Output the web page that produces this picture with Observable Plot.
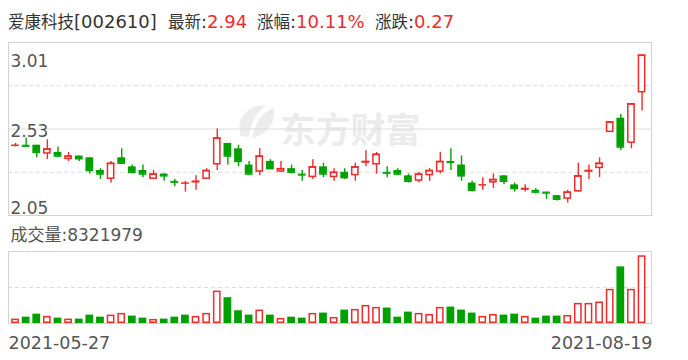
<!DOCTYPE html>
<html><head><meta charset="utf-8">
<script src="https://cdn.jsdelivr.net/npm/d3@7"></script>
<script src="https://cdn.jsdelivr.net/npm/@observablehq/plot@0.6"></script>
<style>
body{margin:0;background:#fff;}
#wrap{position:relative;width:688px;height:360px;overflow:hidden;background:#fff;}
#wrap svg{position:absolute;left:0;}
</style></head><body><div id="wrap"></div>
<script>
// ---- data ----
const dates = ["2021-05-27", "2021-08-19"];
const open = [2.44,2.44,2.44,2.39,2.40,2.36,2.38,2.37,2.30,2.25,
  2.37,2.32,2.30,2.25,2.28,2.24,2.23,2.23,2.25,2.33,
  2.45,2.42,2.33,2.29,2.35,2.29,2.31,2.28,2.26,2.32,
  2.26,2.29,2.27,2.34,2.33,2.29,2.30,2.27,2.24,2.27,
  2.29,2.35,2.33,2.23,2.22,2.23,2.27,2.22,2.19,2.19,
  2.18,2.16,2.14,2.18,2.29,2.31,2.51,2.59,2.45,2.73];
const high = [2.45,2.48,2.44,2.47,2.43,2.40,2.38,2.37,2.31,2.35,
  2.42,2.33,2.33,2.30,2.28,2.25,2.24,2.27,2.31,2.53,
  2.45,2.44,2.35,2.42,2.36,2.35,2.33,2.30,2.36,2.34,
  2.31,2.31,2.34,2.41,2.40,2.32,2.31,2.28,2.29,2.31,
  2.40,2.42,2.38,2.24,2.26,2.28,2.27,2.23,2.22,2.20,
  2.18,2.16,2.19,2.34,2.33,2.37,2.57,2.61,2.67,2.94];
const low = [2.43,2.43,2.37,2.36,2.37,2.35,2.35,2.28,2.25,2.23,
  2.34,2.28,2.26,2.25,2.24,2.21,2.18,2.19,2.25,2.30,
  2.33,2.32,2.28,2.27,2.31,2.29,2.28,2.24,2.25,2.26,
  2.24,2.25,2.24,2.32,2.28,2.26,2.27,2.23,2.23,2.24,
  2.28,2.30,2.24,2.18,2.19,2.20,2.22,2.18,2.18,2.17,
  2.14,2.13,2.12,2.18,2.25,2.26,2.51,2.41,2.42,2.63];
const close = [2.44,2.435,2.40,2.42,2.38,2.38,2.365,2.30,2.28,2.34,
  2.34,2.29,2.28,2.28,2.27,2.235,2.23,2.24,2.30,2.48,
  2.38,2.35,2.28,2.38,2.31,2.31,2.29,2.275,2.32,2.28,
  2.29,2.26,2.32,2.35,2.39,2.285,2.28,2.24,2.28,2.30,
  2.35,2.345,2.27,2.19,2.22,2.25,2.24,2.20,2.20,2.18,
  2.175,2.14,2.18,2.27,2.30,2.34,2.57,2.43,2.67,2.94];
const volume = [540000,780000,1150000,870000,660000,540000,540000,1030000,780000,1030000,
  1240000,910000,660000,500000,540000,780000,1030000,870000,1240000,3980000,
  3170000,1570000,1030000,1650000,1030000,620000,780000,660000,1240000,1280000,
  740000,1650000,1730000,2220000,1980000,1900000,780000,1400000,1240000,1110000,
  1980000,2020000,1650000,1280000,870000,1110000,1030000,1150000,870000,660000,
  910000,910000,990000,2470000,2470000,2640000,4200000,6960000,4200000,8321979];
const priceTicks = [3.01, 2.53, 2.05];
const priceDashed = [2.77, 2.29];
const volumeMax = 8850000;
const stockName = "爱康科技";
const stockCode = "[002610]";
const lastPrice = "2.94";
const pctChange = "10.11%";
const priceChange = "0.27";

// ---- styling ----
const RED = "#ef2b2b", GREEN = "#00a000", GRID = "#dcdcdc", FRAME = "#d2d2d2", LABEL = "#555";
const LATIN = "DejaVu Sans, Noto Sans CJK SC";

const rows = close.map((c, i) => ({
  i, o: open[i], h: high[i], l: low[i], c, v: volume[i],
  up: c >= open[i],
  vup: i === 0 ? c >= open[i] : c >= close[i - 1]
}));

const xOpts = {type: "band", domain: d3.range(rows.length), range: [8.26, 648.3], padding: 0.27, axis: null};
const wrap = document.getElementById("wrap");

// header
const hdr = d3.select(wrap).append("svg").attr("width", 688).attr("height", 42).style("top", "0px");
function group(x, parts) {
  const t = hdr.append("text").attr("x", x).attr("y", 28);
  for (const [s, cjk, col] of parts) {
    t.append("tspan").text(s)
      .attr("font-family", cjk ? "Noto Sans CJK SC" : "DejaVu Sans")
      .attr("font-size", cjk ? 16.5 : 18)
      .attr("fill", col);
  }
}
group(8, [[stockName, true, "#333"], [stockCode, false, "#333"]]);
group(168, [["最新", true, "#333"], [":", false, "#333"], [lastPrice, false, RED]]);
group(257, [["涨幅", true, "#333"], [":", false, "#333"], [pctChange, false, RED]]);
group(375, [["涨跌", true, "#333"], [":", false, "#333"], [priceChange, false, RED]]);

const colorOf = d => d.up ? RED : GREEN;
const lbl = {fontFamily: "DejaVu Sans", fontSize: 17, fill: LABEL, frameAnchor: "left", textAnchor: "start", lineAnchor: "bottom", dx: 2};

const price = Plot.plot({
  width: 688, height: 230, marginTop: 42, marginBottom: 15, marginLeft: 8, marginRight: 37,
  style: {background: "transparent", top: "0px"},
  x: xOpts,
  y: {domain: [priceTicks[2], priceTicks[0]], axis: null},
  color: {type: "identity"},
  marks: [
    Plot.text(["东方财富"], {frameAnchor: "top-left", dx: 272, dy: 100, lineAnchor: "bottom", textAnchor: "start",
      fontSize: 35, fontWeight: "bold", fill: "#ebebeb", fontFamily: "Noto Sans CJK SC"}),
    Plot.ruleY([priceTicks[1]], {stroke: GRID}),
    Plot.ruleY(priceDashed, {stroke: GRID, strokeDasharray: "4,3"}),
    Plot.ruleX(rows, {x: "i", y1: "l", y2: "h", stroke: colorOf, strokeWidth: 1.4}),
    Plot.barY(rows.filter(d => !d.up), {x: "i", y1: "o", y2: "c", fill: GREEN}),
    Plot.barY(rows.filter(d => d.up), {x: "i", y1: "o", y2: "c", fill: "white", stroke: RED, strokeWidth: 1.5, inset: 0.75}),
    Plot.tickY(rows, {x: "i", y: "c", stroke: colorOf, strokeWidth: 1.5}),
    Plot.frame({stroke: FRAME}),
    Plot.text([priceTicks[0]], {...lbl, y: d => d, text: d => d.toFixed(2), dy: 24}),
    Plot.text([priceTicks[1]], {...lbl, y: d => d, text: d => d.toFixed(2), dy: 8}),
    Plot.text([priceTicks[2]], {...lbl, y: d => d, text: d => d.toFixed(2), dy: -2})
  ]
});
// faint watermark logo (decoration only), placed beneath everything
const logo = d3.select(price).insert("g", ":first-child").attr("fill", "#ececec");
logo.append("path").attr("d", "M241,136 C235,118 248,105 266,105 C256,112 250,124 249,137 Z");
logo.append("path").attr("d", "M253,138 C254,124 262,112 274,108 C276,122 268,134 253,138 Z");
wrap.appendChild(price);

const vol = Plot.plot({
  width: 688, height: 145, marginTop: 36, marginBottom: 37, marginLeft: 8, marginRight: 37,
  style: {background: "transparent", top: "215px"},
  x: xOpts,
  y: {domain: [0, volumeMax], axis: null},
  marks: [
    Plot.ruleY([volumeMax / 2], {stroke: GRID, strokeDasharray: "4,3"}),
    Plot.barY(rows.filter(d => !d.vup), {x: "i", y: "v", fill: GREEN}),
    Plot.barY(rows.filter(d => d.vup), {x: "i", y: "v", fill: "white", stroke: RED, strokeWidth: 1.5, inset: 0.75}),
    Plot.frame({stroke: FRAME}),
    Plot.text(["成交量:" + volume[volume.length - 1]], {frameAnchor: "top-left", textAnchor: "start", lineAnchor: "bottom",
      dx: 2, dy: -11, fontFamily: LATIN, fontSize: 17, fill: LABEL}),
    Plot.text([dates[0]], {frameAnchor: "bottom-left", textAnchor: "start", lineAnchor: "bottom",
      dx: 0, dy: 25, fontFamily: "DejaVu Sans", fontSize: 17.5, fill: LABEL}),
    Plot.text([dates[1]], {frameAnchor: "bottom-right", textAnchor: "end", lineAnchor: "bottom",
      dx: 1, dy: 25, fontFamily: "DejaVu Sans", fontSize: 17.5, fill: LABEL})
  ]
});
wrap.appendChild(vol);
</script></body></html>
